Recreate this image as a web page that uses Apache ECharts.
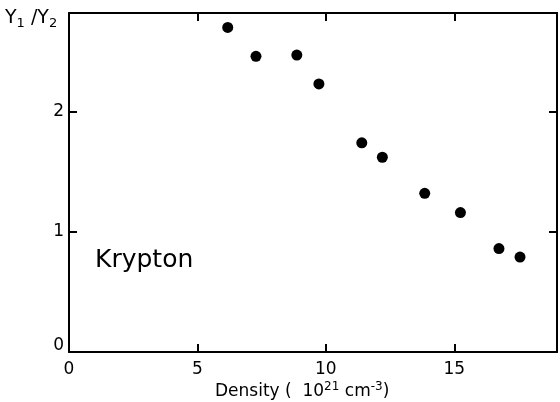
<!DOCTYPE html>
<html>
<head>
<meta charset="utf-8">
<script src="https://cdn.jsdelivr.net/npm/echarts@6/dist/echarts.min.js"></script>
<style>html,body{margin:0;padding:0;background:#fff}#c{width:560px;height:402px}</style>
</head>
<body>
<div id="c"></div>
<script>
const density = [6.18, 7.28, 8.87, 9.73, 11.4, 12.2, 13.85, 15.24, 16.74, 17.56];
const ratio   = [2.70, 2.46, 2.47, 2.23, 1.74, 1.62, 1.32, 1.16, 0.86, 0.79];
const xTicks = [0, 5, 10, 15];
const yTicks = [0, 1, 2];
const FONT = 'DejaVu Sans';
const f = s => s + 'px "' + FONT + '"';

const chart = echarts.init(document.getElementById('c'), null, {renderer: 'canvas'});
const axisLine = {show: true, onZero: false, lineStyle: {color: '#000', width: 2}};
const tick = {show: true, inside: true, length: 8, lineStyle: {color: '#000', width: 2}};
const fmtX = v => xTicks.includes(v) ? String(v) : '';
const fmtY = v => !yTicks.includes(v) ? '' : (v === 0 ? '{z|0}' : String(v));
chart.setOption({
  animation: false,
  grid: {left: 69, right: 2, top: 13, bottom: 50},
  xAxis: [
    {type: 'value', min: 0, max: 19, interval: 5, position: 'bottom',
     axisLine, splitLine: {show: false}, axisTick: tick,
     axisLabel: {formatter: fmtX, color: '#000', fontSize: 17, fontFamily: FONT, margin: 9}},
    {type: 'value', min: 0, max: 19, interval: 5, position: 'top',
     axisLine, splitLine: {show: false}, axisTick: tick,
     axisLabel: {show: false}}
  ],
  yAxis: [
    {type: 'value', min: 0, max: 2.82, interval: 1, position: 'left',
     axisLine, splitLine: {show: false}, axisTick: tick,
     axisLabel: {formatter: fmtY, color: '#000', fontSize: 17, fontFamily: FONT, margin: 5,
       rich: {z: {fontSize: 17, fontFamily: FONT, color: '#000', padding: [0, 0, 12, 0]}}}},
    {type: 'value', min: 0, max: 2.82, interval: 1, position: 'right',
     axisLine, splitLine: {show: false}, axisTick: tick,
     axisLabel: {show: false}}
  ],
  series: [{
    type: 'scatter', xAxisIndex: 0, yAxisIndex: 0,
    data: density.map((d, i) => [d, ratio[i]]),
    symbol: 'circle', symbolSize: 11,
    itemStyle: {color: '#000', opacity: 1}
  }],
  graphic: [
    {type: 'text', left: 95, top: 248,
     style: {text: 'Krypton', font: f(25), fill: '#000'}},
    {type: 'text', left: 5, top: 9,
     style: {text: '{b|Y}{s|1}{b| /Y}{s|2}', font: f(19), fill: '#000',
       rich: {b: {font: f(19), fontSize: 19, fontFamily: FONT, fill: '#000'},
              s: {font: f(13), fontSize: 13, fontFamily: FONT, fill: '#000', padding: [10, 0, 0, 0]}}}},
    {type: 'text', left: 215, top: 381,
     style: {text: '{b|Density (  10}{p|21}{b| cm}{p|-3}{b|)}', font: f(17), fill: '#000',
       rich: {b: {font: f(17), fontSize: 17, fontFamily: FONT, fill: '#000'},
              p: {font: f(12), fontSize: 12, fontFamily: FONT, fill: '#000', padding: [0, 0, 10, 0]}}}}
  ]
});
</script>
</body>
</html>
